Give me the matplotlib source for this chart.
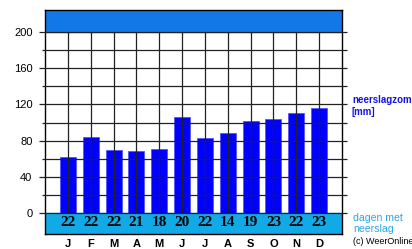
import matplotlib
matplotlib.use("Agg")
import matplotlib.pyplot as plt

# monthly precipitation (mm) and rainy days
months = ["J", "F", "M", "A", "M", "J", "J", "A", "S", "O", "N", "D"]
neerslag = [62, 84, 70, 69, 71, 106, 83, 88, 102, 104, 110, 116]
dagen = [22, 22, 22, 21, 18, 20, 22, 14, 19, 23, 22, 23]
yticks_major = [0, 40, 80, 120, 160, 200]
yticks_minor = [20, 60, 100, 140, 180]

W, H = 412, 249
fig = plt.figure(figsize=(W / 100, H / 100), dpi=100)
ax = fig.add_axes([45 / W, (H - 234) / H, 297 / W, 224 / H])

ymin = -(234 - 213) / 0.905
ymax = 200 + (32 - 10) / 0.905
ax.set_xlim(-1, 12)
ax.set_ylim(ymin, ymax)

x = list(range(len(months)))

# bands
ax.axhspan(200, ymax, color="#1278E8", zorder=0)
ax.axhspan(ymin, 0, color="#12AAE6", zorder=0)

ax.bar(x, neerslag, width=0.7, color="#0000FF", edgecolor="#5555FF",
       linewidth=0.6, zorder=2)

# grid over the bars
grid_col = "#222222"
ax.vlines(x, 0, 200, color=grid_col, linewidth=0.9, zorder=3)
for v in yticks_major:
    ax.plot([-1.27, 12.22], [v, v], color=grid_col, linewidth=0.9,
            zorder=3, clip_on=False, solid_capstyle="butt")
for v in yticks_minor:
    ax.plot([-1.13, 12.22], [v, v], color=grid_col, linewidth=0.9,
            zorder=3, clip_on=False, solid_capstyle="butt")

ax.set_xticks([])
ax.set_yticks(yticks_major)
ax.set_yticklabels([str(v) for v in yticks_major], fontsize=8,
                   family="Liberation Sans")
ax.tick_params(axis="y", length=0, pad=9)

for s in ax.spines.values():
    s.set_color("black")
    s.set_linewidth(1.0)

# rainy days in the cyan band
for xi, d in zip(x, dagen):
    ax.text(xi, -10.5, str(d), ha="center", va="center", fontsize=11,
            family="Liberation Serif", fontweight="semibold", color="black",
            zorder=4)

# month labels below
for xi, m in zip(x, months):
    ax.text(xi, ymin - 9.5 / 0.905, m, ha="center", va="center", fontsize=8,
            family="Liberation Sans", fontweight="bold", clip_on=False)

fig.text(352 / W, 1 - 100 / H, "neerslagzom", fontsize=7, color="#1414E6",
         family="Liberation Sans", fontweight="bold", ha="left", va="center")
fig.text(352 / W, 1 - 112 / H, "[mm]", fontsize=7, color="#1414E6",
         family="Liberation Sans", fontweight="bold", ha="left", va="center")
fig.text(353 / W, 1 - 217.5 / H, "dagen met", fontsize=7.6, color="#2AA8E6",
         family="Liberation Sans", ha="left", va="center")
fig.text(353 / W, 1 - 229 / H, "neerslag", fontsize=7.6, color="#2AA8E6",
         family="Liberation Sans", ha="left", va="center")
fig.text(353 / W, 1 - 241 / H, "(c) WeerOnline", fontsize=6.5, color="black",
         family="Liberation Sans", ha="left", va="center")

fig.savefig("out.png", dpi=100)
